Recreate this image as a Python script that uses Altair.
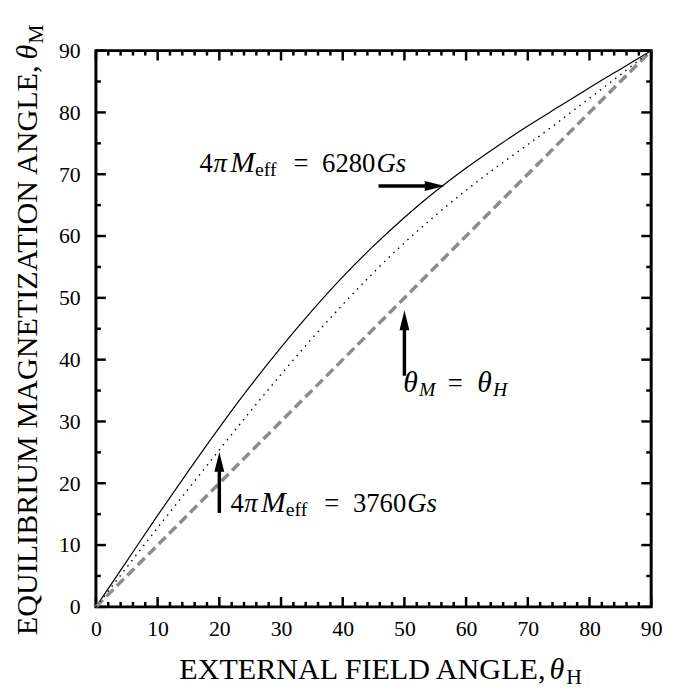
import altair as alt
import pandas as pd

# ---------------- data ----------------
theta_h = [0, 5, 10, 15, 20, 25, 30, 35, 40, 45, 50, 55, 60, 65, 70, 75, 80, 85, 90]
theta_m_6280 = [0, 7.4, 14.8, 22.0, 29.0, 35.7, 42.0, 47.9, 53.4, 58.4, 63.0,
                67.2, 71.0, 74.5, 77.8, 80.9, 84.0, 87.0, 90]
theta_m_3760 = [0, 6.4, 12.8, 19.1, 25.4, 31.6, 37.6, 43.4, 48.9, 54.1, 58.9,
                63.3, 67.4, 71.2, 74.8, 78.5, 82.3, 86.1, 90]
identity = [0, 90]

x_major = [0, 10, 20, 30, 40, 50, 60, 70, 80, 90]
x_minor = [v for v in range(0, 91, 2) if v % 10]
y_major = [0, 10, 20, 30, 40, 50, 60, 70, 80, 90]
y_minor = [5, 15, 25, 35, 45, 55, 65, 75, 85]

h_arrow_x = [45.8]
h_arrow_x2 = [56.5]
h_arrow_y = [68.1]
v_arrow_x = [50, 20]
v_arrow_y = [37.4, 15.2]
v_arrow_y2 = [47.95, 25.05]

# ---------------- chart ----------------
W, H = 562, 563
SERIF = "Liberation Serif"

curves = pd.DataFrame({"h": theta_h, "m6280": theta_m_6280, "m3760": theta_m_3760})
ident = pd.DataFrame({"h": identity, "m": identity})

xscale = alt.Scale(domain=[0, 90], nice=False, zero=False)
yscale = alt.Scale(domain=[0, 90], nice=False, zero=False)

x_axis = alt.Axis(values=x_major, format="d", labelFont=SERIF, labelFontSize=22,
                  labelColor="black", labelPadding=12, ticks=False, domain=False,
                  grid=False, labelFlush=False, labelOverlap=False)
y_axis = alt.Axis(values=y_major, format="d", labelFont=SERIF, labelFontSize=22,
                  labelColor="black", labelPadding=16, ticks=False, domain=False,
                  grid=False, labelFlush=False, labelOverlap=False)

solid = alt.Chart(curves).mark_line(color="black", strokeWidth=1.2, interpolate="natural").encode(
    x=alt.X("h:Q", scale=xscale, axis=x_axis, title=None),
    y=alt.Y("m6280:Q", scale=yscale, axis=y_axis, title=None),
)
dotted = alt.Chart(curves).mark_line(color="black", strokeWidth=1.4, strokeDash=[1.5, 5],
                                     interpolate="natural").encode(
    x=alt.X("h:Q", title=None),
    y=alt.Y("m3760:Q", title=None),
)
dashed = alt.Chart(ident).mark_line(color="#8c8c8c", strokeWidth=3.5, strokeDash=[10, 5]).encode(
    x=alt.X("h:Q", title=None),
    y=alt.Y("m:Q", title=None),
)


def x_ticks(vals, length):
    df = pd.DataFrame({"t": vals})
    base = alt.Chart(df).mark_rule(color="black", strokeWidth=2.5)
    bottom = base.encode(x=alt.X("t:Q", title=None), y=alt.value(H), y2=alt.value(H - length))
    top = base.encode(x=alt.X("t:Q", title=None), y=alt.value(0), y2=alt.value(length))
    return [bottom, top]


def y_ticks(vals, length):
    df = pd.DataFrame({"t": vals})
    base = alt.Chart(df).mark_rule(color="black", strokeWidth=2.5)
    left = base.encode(y=alt.Y("t:Q", title=None), x=alt.value(0), x2=alt.value(length))
    right = base.encode(y=alt.Y("t:Q", title=None), x=alt.value(W), x2=alt.value(W - length))
    return [left, right]


tick_layers = x_ticks(x_major, 10) + x_ticks(x_minor, 5) + y_ticks(y_major, 10) + y_ticks(y_minor, 5)

# arrows
h_df = pd.DataFrame({"x": h_arrow_x, "x2": h_arrow_x2, "y": h_arrow_y})
v_df = pd.DataFrame({"x": v_arrow_x, "y": v_arrow_y, "y2": v_arrow_y2})

h_shaft = alt.Chart(h_df).transform_calculate(xe="datum.x2 - 1.5").mark_rule(
    color="black", strokeWidth=3.5).encode(
    x=alt.X("x:Q", title=None), x2="xe:Q", y=alt.Y("y:Q", title=None))
h_head = alt.Chart(h_df).mark_point(shape="M0,0 L-2,-0.5 L-2,0.5 Z", size=400, filled=True,
                                    color="black", opacity=1).encode(
    x=alt.X("x2:Q", title=None), y=alt.Y("y:Q", title=None))
v_shaft = alt.Chart(v_df).transform_calculate(ye="datum.y2 - 1.5").mark_rule(
    color="black", strokeWidth=3.5).encode(
    x=alt.X("x:Q", title=None), y=alt.Y("y:Q", title=None), y2="ye:Q")
v_head = alt.Chart(v_df).mark_point(shape="M0,0 L-0.5,2 L0.5,2 Z", size=400, filled=True,
                                    color="black", opacity=1).encode(
    x=alt.X("x:Q", title=None), y=alt.Y("y2:Q", title=None))

blank = alt.Data(values=[{}])


def ptext(text, x, y, size, italic=False, angle=0, align="left"):
    kw = dict(text=text, font=SERIF, fontSize=size, color="black", align=align,
              baseline="alphabetic")
    if italic:
        kw["fontStyle"] = "italic"
    if angle:
        kw["angle"] = angle
    return alt.Chart(blank).mark_text(**kw).encode(x=alt.value(x), y=alt.value(y))


def atext(text, ax, ay, dx, size=27, italic=False, dy=0):
    kw = dict(text=text, font=SERIF, fontSize=size, color="black", align="left",
              baseline="alphabetic", dx=dx, dy=dy)
    if italic:
        kw["fontStyle"] = "italic"
    return alt.Chart(blank).mark_text(**kw).encode(x=alt.datum(ax), y=alt.datum(ay))


def meff(value, ax, ay):
    return [
        atext("4", ax, ay, 0),
        atext("π", ax, ay, 14, italic=True),
        atext("M", ax, ay, 31, size=30, italic=True),
        atext("eff", ax, ay, 56, size=20, dy=4),
        atext("=", ax, ay, 95),
        atext(value, ax, ay, 124),
        atext("Gs", ax, ay, 179, italic=True),
    ]


ann = meff("6280", 16.8, 70.33) + meff("3760", 21.8, 15.35) + [
    atext("θ", 49.8, 34.7, 0, size=30, italic=True),
    atext("M", 49.8, 34.7, 16, size=20, italic=True, dy=4),
    atext("=", 49.8, 34.7, 45),
    atext("θ", 49.8, 34.7, 75, size=30, italic=True),
    atext("H", 49.8, 34.7, 91, size=20, italic=True, dy=4),
]

titles = [
    ptext("EXTERNAL FIELD ANGLE,", 455, 636, 30.5, align="right"),
    ptext("θ", 459, 636, 30.5, italic=True),
    ptext("H", 476, 641, 22),
    ptext("EQUILIBRIUM MAGNETIZATION ANGLE,", -60, 15, 30.5, angle=270, align="right"),
    ptext("θ", -60, 9, 30.5, italic=True, angle=270),
    ptext("M", -54, -7, 22, angle=270),
]

chart = alt.layer(
    solid, *tick_layers, dashed, dotted, h_shaft, h_head, v_shaft, v_head, *ann, *titles
).properties(
    width=W, height=H,
    autosize=alt.AutoSizeParams(type="none"),
    padding={"left": 89, "top": 39, "right": 16, "bottom": 80},
).configure_view(stroke="black", strokeWidth=3)

chart.save("out.html", embed_options={"renderer": "svg", "actions": False})
